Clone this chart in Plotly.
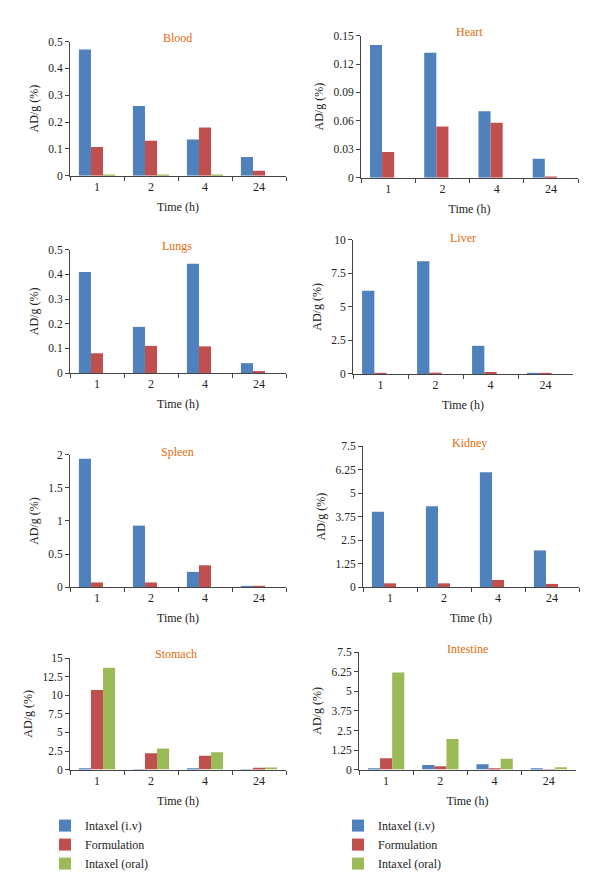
import plotly.graph_objects as go

# time points (categories)
times = ["1", "2", "4", "24"]
series_names = ["Intaxel (i.v)", "Formulation", "Intaxel (oral)"]
colors = ["#4F81BD", "#C0504D", "#9BBB59"]

# AD/g (%) per organ: [i.v, formulation, oral]
blood_iv = [0.47, 0.26, 0.135, 0.07]
blood_form = [0.107, 0.13, 0.18, 0.018]
blood_oral = [0.001, 0.001, 0.001, 0.0]

heart_iv = [0.14, 0.132, 0.07, 0.02]
heart_form = [0.027, 0.054, 0.058, 0.001]
heart_oral = [0, 0, 0, 0]

lungs_iv = [0.41, 0.187, 0.443, 0.04]
lungs_form = [0.08, 0.11, 0.108, 0.008]
lungs_oral = [0, 0, 0, 0]

liver_iv = [6.2, 8.4, 2.1, 0.05]
liver_form = [0.08, 0.1, 0.15, 0.02]
liver_oral = [0, 0, 0, 0]

spleen_iv = [1.94, 0.93, 0.23, 0.015]
spleen_form = [0.07, 0.07, 0.33, 0.02]
spleen_oral = [0, 0, 0, 0]

kidney_iv = [4.0, 4.3, 6.1, 1.95]
kidney_form = [0.2, 0.2, 0.38, 0.17]
kidney_oral = [0, 0, 0, 0]

stomach_iv = [0.1, 0.05, 0.1, 0.05]
stomach_form = [10.7, 2.2, 1.85, 0.25]
stomach_oral = [13.7, 2.85, 2.35, 0.3]

intestine_iv = [0.08, 0.3, 0.35, 0.03]
intestine_form = [0.72, 0.22, 0.07, 0.01]
intestine_oral = [6.2, 1.95, 0.7, 0.15]

# name, data, y max, y step, pixel box (left, right, top, bottom), title pos (x, y)
panels = [
    ("Blood", [blood_iv, blood_form, blood_oral], 0.5, 0.1, (70, 286, 36, 172), (177, 32)),
    ("Heart", [heart_iv, heart_form, heart_oral], 0.15, 0.03, (361, 578, 30, 174), (469, 26)),
    ("Lungs", [lungs_iv, lungs_form, lungs_oral], 0.5, 0.1, (70, 286, 247, 372), (177, 243)),
    ("Liver", [liver_iv, liver_form, liver_oral], 10, 2.5, (353, 573, 237, 373), (463, 235)),
    ("Spleen", [spleen_iv, spleen_form, spleen_oral], 2, 0.5, (70, 286, 455, 589), (177, 452)),
    ("Kidney", [kidney_iv, kidney_form, kidney_oral], 7.5, 1.25, (363, 579, 446, 589), (469, 443)),
    ("Stomach", [stomach_iv, stomach_form, stomach_oral], 15, 2.5, (70, 286, 661, 774), (176, 657)),
    ("Intestine", [intestine_iv, intestine_form, intestine_oral], 7.5, 1.25, (359, 576, 655, 774), (467, 652)),
]

W, H = 600, 894
FONT = "Liberation Serif"
AXIS_COL = "#444444"
TXT = "#222222"

fig = go.Figure()
layout = {}
annotations = []

for i, (name, data, ymax, ystep, box, tpos) in enumerate(panels):
    n = i + 1
    xa = "x" if n == 1 else f"x{n}"
    ya = "y" if n == 1 else f"y{n}"
    left, right, top, bottom = box

    # legends only for the bottom row (stomach -> legend, intestine -> legend2)
    legend_id = None
    if name == "Stomach":
        legend_id = "legend"
    elif name == "Intestine":
        legend_id = "legend2"

    for s, vals in enumerate(data):
        fig.add_trace(go.Bar(
            x=times, y=vals, name=series_names[s],
            marker=dict(color=colors[s], line=dict(width=0)),
            xaxis=xa, yaxis=ya,
            showlegend=legend_id is not None,
            legend=legend_id if legend_id else "legend",
        ))

    layout["xaxis" if n == 1 else f"xaxis{n}"] = dict(
        domain=[left / W, right / W], anchor=ya,
        type="category", tickson="boundaries",
        ticks="outside", ticklen=4, tickcolor=AXIS_COL,
        showline=True, linecolor=AXIS_COL, linewidth=1,
        showgrid=False, zeroline=False,
        tickfont=dict(family=FONT, size=12, color=TXT),
        title=dict(text="Time (h)", font=dict(family=FONT, size=12, color=TXT), standoff=9),
    )
    layout["yaxis" if n == 1 else f"yaxis{n}"] = dict(
        domain=[1 - bottom / H, 1 - top / H], anchor=xa,
        range=[0, ymax], dtick=ystep, tick0=0,
        ticks="outside", ticklen=4, tickcolor=AXIS_COL,
        showline=True, linecolor=AXIS_COL, linewidth=1,
        showgrid=False, zeroline=False,
        tickfont=dict(family=FONT, size=11.5, color=TXT),
        title=dict(text="AD/g (%)", font=dict(family=FONT, size=12, color=TXT), standoff=7),
    )
    annotations.append(dict(
        text=name, x=tpos[0] / W, y=1 - tpos[1] / H, xref="paper", yref="paper",
        xanchor="center", yanchor="middle", showarrow=False,
        font=dict(family=FONT, size=12, color="#E46C0A"),
    ))

fig.update_layout(
    width=W, height=H,
    margin=dict(l=0, r=0, t=0, b=0),
    paper_bgcolor="white", plot_bgcolor="white",
    barmode="group", bargap=0.33, bargroupgap=0,
    annotations=annotations,
    legend=dict(x=45 / W, y=1 - 850 / H, xanchor="left", yanchor="middle",
                font=dict(family=FONT, size=12, color=TXT), tracegroupgap=0,
                itemclick=False),
    legend2=dict(x=338 / W, y=1 - 850 / H, xanchor="left", yanchor="middle",
                 font=dict(family=FONT, size=12, color=TXT), tracegroupgap=0,
                 itemclick=False),
    **layout,
)

# drop the default page margin so the figure sits at the window origin
fig.write_html("out.html", config={"displayModeBar": False},
               post_script="document.body.style.margin='0';")
